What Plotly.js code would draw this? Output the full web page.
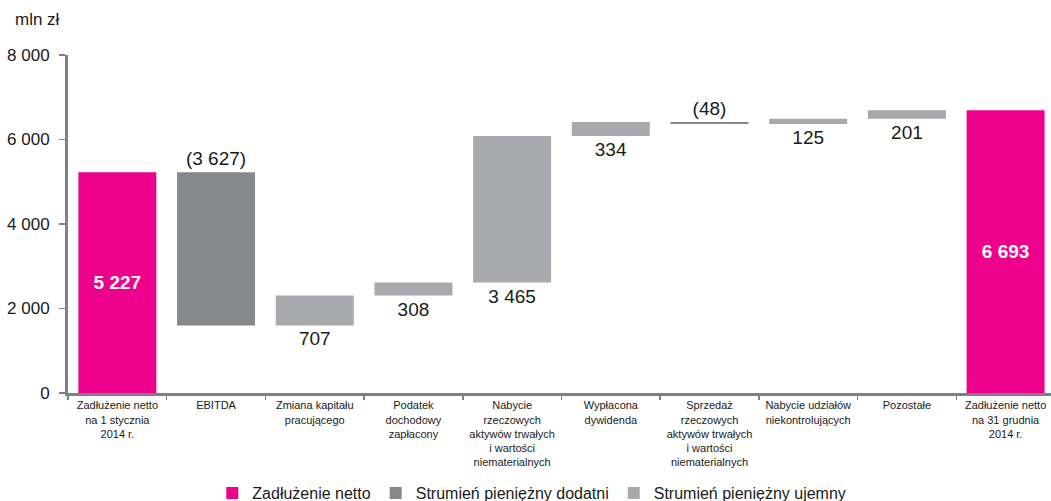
<!DOCTYPE html>
<html>
<head>
<meta charset="utf-8">
<script src="https://cdn.plot.ly/plotly-3.0.1.min.js"></script>
<style>
  html, body { margin: 0; padding: 0; background: #ffffff; }
  #chart { width: 1051px; height: 501px; }
</style>
</head>
<body>
<div id="chart"></div>
<script>
// Net debt bridge 2014 (mln zł)
const categories = [
  "Zadłużenie netto<br>na 1 stycznia<br>2014 r.",
  "EBITDA",
  "Zmiana kapitału<br>pracującego",
  "Podatek<br>dochodowy<br>zapłacony",
  "Nabycie<br>rzeczowych<br>aktywów trwałych<br>i wartości<br>niematerialnych",
  "Wypłacona<br>dywidenda",
  "Sprzedaż<br>rzeczowych<br>aktywów trwałych<br>i wartości<br>niematerialnych",
  "Nabycie udziałów<br>niekontrolujących",
  "Pozostałe",
  "Zadłużenie netto<br>na 31 grudnia<br>2014 r."
];
const openingDebt = 5227;
const closingDebt = 6693;
// cash-flow effects on net debt (negative = debt reduction)
const flowValues = [-3627, 707, 308, 3465, 334, -48, 125, 201];

const legendNames = ["Zadłużenie netto", "Strumień pieniężny dodatni", "Strumień pieniężny ujemny"];
const colors = { debt: "#EC008C", positive: "#87888A", negative: "#A7A9AC" };

function fmt(v) {
  return String(Math.abs(v)).replace(/\B(?=(\d{3})+(?!\d))/g, " ");
}

// build floating bars from the running debt level
const flowCats = categories.slice(1, 1 + flowValues.length);
const pos = { x: [], y: [], base: [], text: [] };
const neg = { x: [], y: [], base: [], text: [] };
let level = openingDebt;
flowValues.forEach((v, i) => {
  const after = level + v;
  const target = v < 0 ? pos : neg;
  target.x.push(flowCats[i]);
  target.base.push(after);
  target.y.push(-v);
  target.text.push(v < 0 ? "(" + fmt(v) + ")" : fmt(v));
  level = after;
});

const labelFont = { family: "Liberation Sans, Arial, sans-serif", size: 19, color: "#1a1a1a" };

const traces = [
  {
    type: "bar",
    name: legendNames[0],
    x: [categories[0], categories[categories.length - 1]],
    y: [openingDebt, closingDebt],
    text: [fmt(openingDebt), fmt(closingDebt)],
    textposition: "inside",
    insidetextanchor: "middle",
    textangle: 0,
    textfont: { family: "Liberation Sans, Arial, sans-serif", size: 19, color: "#ffffff", weight: "bold" },
    marker: { color: colors.debt },
    hoverinfo: "skip"
  },
  {
    type: "bar",
    name: legendNames[1],
    x: pos.x, y: pos.y, base: pos.base, text: pos.text,
    textposition: "outside",
    textangle: 0,
    textfont: labelFont,
    cliponaxis: false,
    marker: { color: colors.positive },
    hoverinfo: "skip"
  },
  {
    type: "bar",
    name: legendNames[2],
    x: neg.x, y: neg.y, base: neg.base, text: neg.text,
    textposition: "outside",
    textangle: 0,
    textfont: labelFont,
    cliponaxis: false,
    marker: { color: colors.negative },
    hoverinfo: "skip"
  }
];

const layout = {
  width: 1051,
  height: 501,
  margin: { l: 68, r: 0, t: 55, b: 108 },
  paper_bgcolor: "#ffffff",
  plot_bgcolor: "#ffffff",
  font: { family: "Liberation Sans, Arial, sans-serif", color: "#1a1a1a" },
  separators: ", ",
  barmode: "overlay",
  bargap: 0.21,
  showlegend: true,
  xaxis: {
    type: "category",
    categoryorder: "array",
    categoryarray: categories,
    range: [-0.5, 9.46],
    showgrid: false,
    zeroline: false,
    showline: true,
    linecolor: "#808080",
    linewidth: 3,
    ticks: "outside",
    tickson: "boundaries",
    ticklen: 4,
    tickwidth: 1.5,
    tickcolor: "#808080",
    tickangle: 0,
    tickfont: { size: 11, color: "#1a1a1a" },
    fixedrange: true
  },
  yaxis: {
    range: [0, 8000],
    dtick: 2000,
    tickformat: ",d",
    showgrid: false,
    zeroline: false,
    showline: true,
    linecolor: "#808080",
    linewidth: 3,
    ticks: "outside",
    ticklen: 6,
    tickwidth: 1.5,
    tickcolor: "#808080",
    ticklabelstandoff: 6,
    tickfont: { size: 17, color: "#1a1a1a" },
    fixedrange: true
  },
  legend: {
    orientation: "h",
    xref: "container",
    yref: "container",
    x: 0.506,
    xanchor: "center",
    y: 0.016,
    yanchor: "middle",
    font: { size: 16, color: "#1a1a1a" },
    itemwidth: 30,
    traceorder: "normal"
  },
  annotations: [
    {
      text: "mln zł",
      xref: "paper", yref: "paper",
      x: -0.056, y: 1.1036,
      xanchor: "left", yanchor: "middle",
      showarrow: false,
      font: { size: 17, color: "#1a1a1a" }
    }
  ]
};

Plotly.newPlot("chart", traces, layout, { displayModeBar: false, staticPlot: true });
</script>
</body>
</html>
